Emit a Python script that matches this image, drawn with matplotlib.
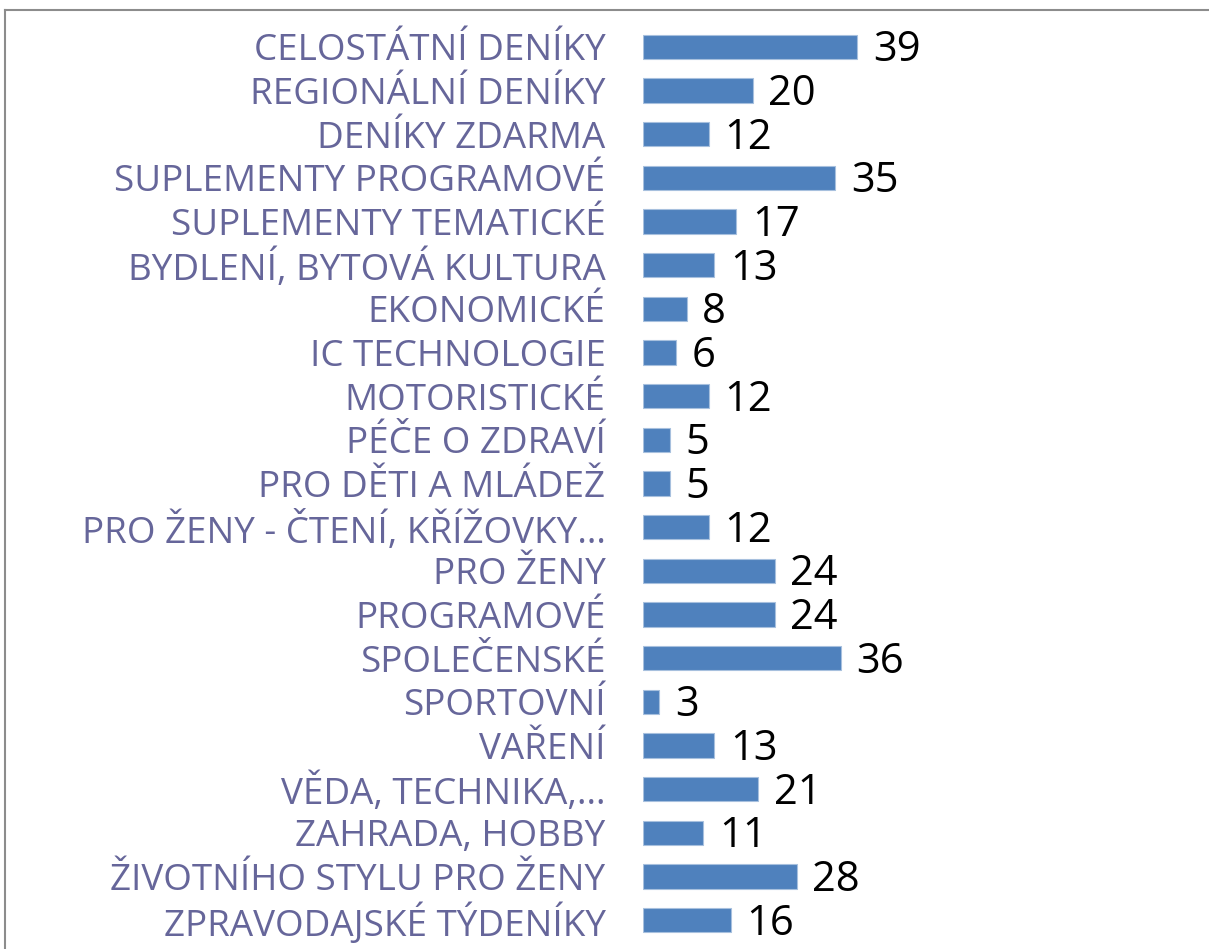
import numpy as np
import matplotlib.pyplot as plt
from matplotlib.lines import Line2D

# categories and counts, top to bottom as in the chart
categories = ['CELOSTÁTNÍ DENÍKY', 'REGIONÁLNÍ DENÍKY', 'DENÍKY ZDARMA',
    'SUPLEMENTY PROGRAMOVÉ', 'SUPLEMENTY TEMATICKÉ', 'BYDLENÍ, BYTOVÁ KULTURA',
    'EKONOMICKÉ', 'IC TECHNOLOGIE', 'MOTORISTICKÉ', 'PÉČE O ZDRAVÍ',
    'PRO DĚTI A MLÁDEŽ', 'PRO ŽENY - ČTENÍ, KŘÍŽOVKY…', 'PRO ŽENY',
    'PROGRAMOVÉ', 'SPOLEČENSKÉ', 'SPORTOVNÍ', 'VAŘENÍ', 'VĚDA, TECHNIKA,…',
    'ZAHRADA, HOBBY', 'ŽIVOTNÍHO STYLU PRO ŽENY', 'ZPRAVODAJSKÉ TÝDENÍKY']
counts = [39, 20, 12, 35, 17, 13, 8, 6, 12, 5, 5, 12, 24, 24, 36, 3, 13, 21,
    11, 28, 16]

W, H = 1209, 949
fig = plt.figure(figsize=(W / 100, H / 100), dpi=100)
fig.patch.set_facecolor('white')

# chart frame (cropped on right and bottom)
fig.add_artist(Line2D([5 / W, 1], [1 - 10 / H, 1 - 10 / H], color='#8c8c8c',
    lw=1.5, transform=fig.transFigure))
fig.add_artist(Line2D([5 / W, 5 / W], [0, 1 - 10 / H], color='#8c8c8c',
    lw=1.5, transform=fig.transFigure))

left, top, bottom = 643, 25, 942
ax = fig.add_axes([left / W, 1 - bottom / H, 1 - left / W, (bottom - top) / H])
y = np.arange(len(categories))
ax.barh(y, counts, height=0.55, color='#4f81bd', edgecolor='#a7c0de',
    linewidth=0.8)
ax.set_ylim(len(categories) - 0.5, -0.5)
ax.set_xlim(0, 103)
for yi, c in zip(y, counts):
    ax.text(c + 2.8, yi + 0.08, str(c), va='center', ha='left', fontsize=30,
        family='Open Sans', color='black')
for s in ax.spines.values(): s.set_visible(False)
ax.set_xticks([])
ax.set_yticks(y)
ax.set_yticklabels(categories, fontsize=26.5, family='Open Sans',
    color='#66669a')
ax.tick_params(axis='y', length=0, pad=27)

fig.savefig('out.png', dpi=100)
